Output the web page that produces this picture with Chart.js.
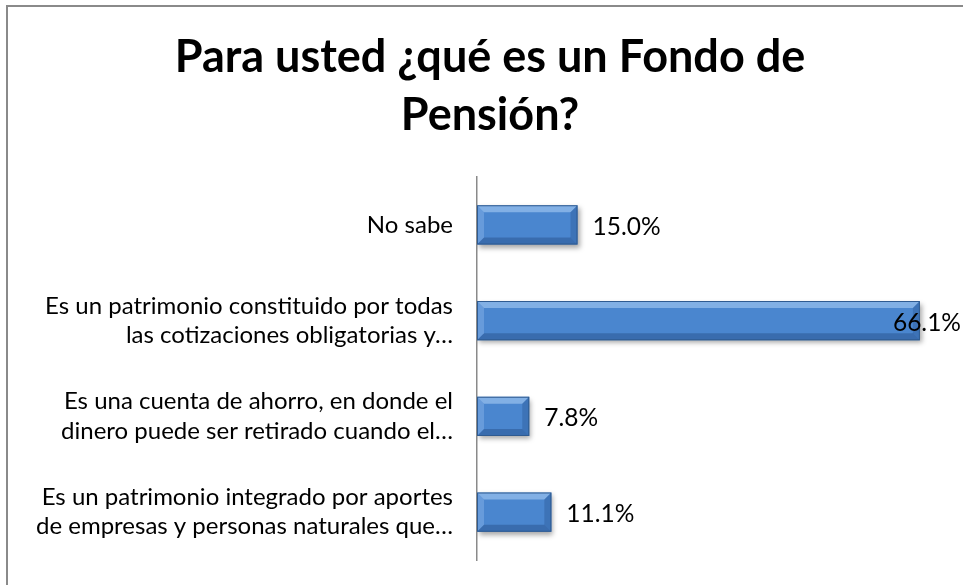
<!DOCTYPE html>
<html>
<head>
<meta charset="utf-8">
<script src="https://cdn.jsdelivr.net/npm/chart.js@4"></script>
<style>
  html, body { margin: 0; padding: 0; background: #fff; }
  #wrap { width: 963px; height: 585px; position: relative; }
</style>
</head>
<body>
<div id="wrap"><canvas id="chart"></canvas></div>
<script>
// ── DATA ──────────────────────────────────────────────────────
const titleLines = ['Para usted ¿qué es un Fondo de', 'Pensión?'];
const categories = [
  ['No sabe'],
  ['Es un patrimonio constituido por todas', 'las cotizaciones obligatorias y…'],
  ['Es una cuenta de ahorro, en donde el', 'dinero puede ser retirado cuando el…'],
  ['Es un patrimonio integrado por aportes', 'de empresas y personas naturales que…']
];
const values = [15.0, 66.1, 7.8, 11.1];
const axisMax = 70;

const FONT = 'Lato, "Open Sans", sans-serif';

// ── PLUGINS ───────────────────────────────────────────────────
// white background + the grey frame on the top/left edges
const framePlugin = {
  id: 'frame',
  beforeDraw(chart) {
    const c = chart.ctx;
    c.save();
    c.fillStyle = '#fff';
    c.fillRect(0, 0, chart.width, chart.height);
    c.strokeStyle = '#8a8a8a';
    c.lineWidth = 2;
    c.beginPath();
    c.moveTo(7, chart.height);
    c.lineTo(7, 6);
    c.lineTo(chart.width, 6);
    c.stroke();
    c.restore();
  }
};

// soft drop shadow under the bars
const shadowPlugin = {
  id: 'barShadow',
  beforeDatasetsDraw(chart) {
    const c = chart.ctx;
    c.save();
    c.shadowColor = 'rgba(0,0,0,0.35)';
    c.shadowBlur = 5;
    c.shadowOffsetX = 2;
    c.shadowOffsetY = 3;
  },
  afterDatasetsDraw(chart) {
    chart.ctx.restore();
  }
};

// bevel edges + value labels
const bevelLabelPlugin = {
  id: 'bevelLabels',
  afterDatasetsDraw(chart) {
    const c = chart.ctx;
    const meta = chart.getDatasetMeta(0);
    c.save();
    meta.data.forEach((bar, i) => {
      const left = bar.base, right = bar.x;
      const top = bar.y - bar.height / 2, bottom = bar.y + bar.height / 2;
      const b = Math.min(7, (right - left) / 2);
      const poly = (pts, fill) => {
        c.beginPath();
        c.moveTo(pts[0][0], pts[0][1]);
        pts.slice(1).forEach(p => c.lineTo(p[0], p[1]));
        c.closePath();
        c.fillStyle = fill;
        c.fill();
      };
      poly([[left, top], [right, top], [right - b, top + b], [left + b, top + b]], 'rgba(200,228,255,0.45)');
      poly([[left, top], [left + b, top + b], [left + b, bottom - b], [left, bottom]], 'rgba(190,220,255,0.25)');
      poly([[right, top], [right, bottom], [right - b, bottom - b], [right - b, top + b]], 'rgba(20,50,100,0.22)');
      poly([[left, bottom], [left + b, bottom - b], [right - b, bottom - b], [right, bottom]], 'rgba(20,50,100,0.30)');
      c.strokeStyle = '#2f5b91';
      c.lineWidth = 1;
      c.strokeRect(left + 0.5, top + 0.5, right - left - 1, bottom - top - 1);

      // value label, outside end, kept inside the canvas
      const txt = values[i].toFixed(1) + '%';
      c.font = '24.5px ' + FONT;
      c.fillStyle = '#000';
      c.textBaseline = 'middle';
      c.textAlign = 'left';
      const w = c.measureText(txt).width;
      const x = Math.min(right + 15, chart.width - 2 - w);
      c.fillText(txt, x, bar.y + 2);
    });
    c.restore();
  }
};

function barGradient(ctx) {
  const chart = ctx.chart;
  const el = ctx.element;
  if (!el || !chart.chartArea) return '#4a86cf';
  const top = el.y - el.height / 2, bottom = el.y + el.height / 2;
  if (!isFinite(top) || !isFinite(bottom) || bottom <= top) return '#4a86cf';
  const g = chart.ctx.createLinearGradient(0, top, 0, bottom);
  g.addColorStop(0, '#6ea8ea');
  g.addColorStop(0.45, '#4a88d0');
  g.addColorStop(1, '#3a6fb3');
  return g;
}

// ── CHART ─────────────────────────────────────────────────────
new Chart(document.getElementById('chart'), {
  type: 'bar',
  data: {
    labels: categories,
    datasets: [{
      data: values,
      backgroundColor: barGradient,
      borderWidth: 0,
      barPercentage: 0.41,
      categoryPercentage: 1
    }]
  },
  options: {
    indexAxis: 'y',
    responsive: true,
    maintainAspectRatio: false,
    animation: false,
    layout: { padding: { top: 0, right: 17, bottom: 25, left: 34 } },
    plugins: {
      legend: { display: false },
      tooltip: { enabled: false },
      title: {
        display: true,
        text: titleLines,
        color: '#000',
        font: { family: FONT, size: 45, weight: 'bold', lineHeight: 58 / 45 },
        padding: { top: 28, bottom: 33 }
      }
    },
    scales: {
      x: {
        display: false,
        min: 0,
        max: axisMax
      },
      y: {
        afterFit(scale) {
          scale.width = 443;
          scale.paddingTop = 0;
          scale.paddingBottom = 0;
        },
        grid: { display: false, drawTicks: false },
        border: { display: true, color: '#8a8a8a', width: 1.5 },
        ticks: {
          color: '#000',
          padding: 24,
          font: { family: FONT, size: 24, lineHeight: 1.22 }
        }
      }
    }
  },
  plugins: [framePlugin, shadowPlugin, bevelLabelPlugin]
});
</script>
</body>
</html>
